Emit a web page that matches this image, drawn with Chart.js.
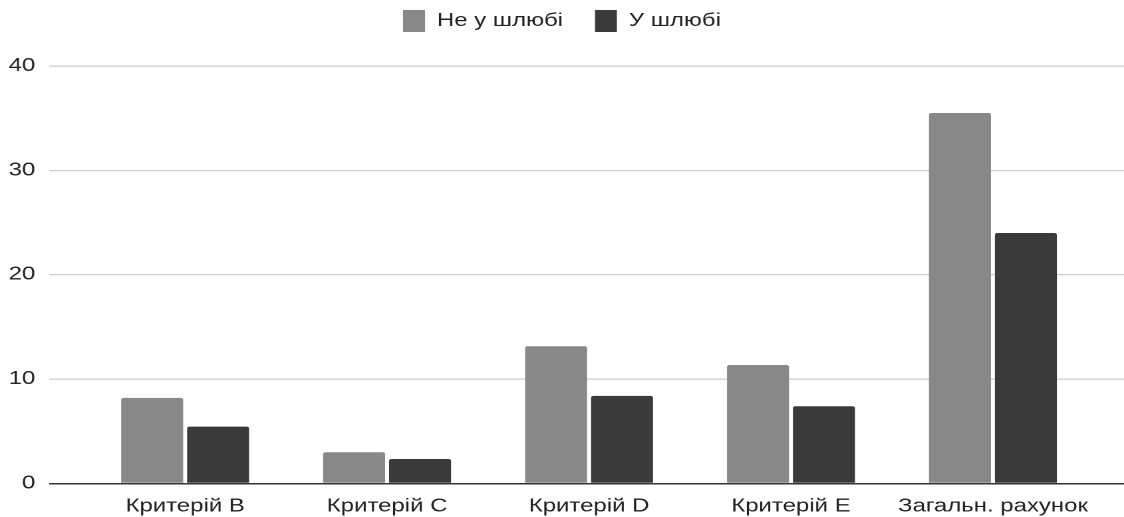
<!DOCTYPE html>
<html>
<head>
<meta charset="utf-8">
<script src="https://cdn.jsdelivr.net/npm/chart.js@4"></script>
<style>
  html, body { margin: 0; padding: 0; background: #fff; }
  #wrap { width: 1124px; height: 517px; }
</style>
</head>
<body>
<div id="wrap"><canvas id="chart" width="845" height="517" style="width:1124px;height:517px"></canvas></div>
<script>
const CATEGORIES = ["Критерій B", "Критерій C", "Критерій D", "Критерій E", "Загальн. рахунок"];
const SERIES_NAMES = ["Не у шлюбі", "У шлюбі"];
const NOT_MARRIED = [8.2, 3.0, 13.15, 11.35, 35.5];
const MARRIED = [5.45, 2.35, 8.4, 7.4, 24.0];
const Y_TICKS = [0, 10, 20, 30, 40];
const COLORS = ["#888888", "#3a3a3a"];

// the original is drawn wide: render narrower and let CSS stretch it
const FONT = { family: "'Liberation Sans', Arial, sans-serif", size: 18 };
const LEGEND_GAP = 24;

function toPoints(values) {
  return values.map((v, i) => ({ x: i, y: v }));
}

const datasets = [NOT_MARRIED, MARRIED].map((values, i) => ({
  label: SERIES_NAMES[i],
  data: toPoints(values),
  backgroundColor: COLORS[i],
  borderWidth: 0,
  borderRadius: { topLeft: 2, topRight: 2 },
  borderSkipped: "start",
  categoryPercentage: 0.653,
  barPercentage: 0.94,
}));

// extra room under the legend
const legendSpace = {
  id: "legendSpace",
  beforeLayout(chart) {
    const legend = chart.legend;
    if (!legend || legend._spaced) return;
    const fit = legend.fit.bind(legend);
    legend.fit = function () {
      fit();
      this.height += 24;
    };
    legend._spaced = true;
  },
};

new Chart(document.getElementById("chart").getContext("2d"), {
  type: "bar",
  data: { datasets },
  plugins: [legendSpace],
  options: {
    responsive: false,
    animation: false,
    devicePixelRatio: 2,
    layout: { padding: { top: 10 - LEGEND_GAP, left: 0, right: 0, bottom: 0 } },
    scales: {
      x: {
        type: "linear",
        offset: false,
        min: -0.673,
        max: 4.649,
        grid: { display: false, drawTicks: false },
        border: { display: false },
        afterBuildTicks: (s) => {
          s.ticks = CATEGORIES.map((_, i) => ({ value: i }));
        },
        afterFit: (s) => { s.height = 33.5; },
        ticks: {
          autoSkip: false,
          maxRotation: 0,
          padding: 12,
          color: "#222",
          font: FONT,
          callback: (v) => CATEGORIES[v],
        },
      },
      y: {
        min: 0,
        max: 40,
        afterBuildTicks: (s) => {
          s.ticks = Y_TICKS.map((v) => ({ value: v }));
        },
        afterFit: (s) => { s.width = 37; },
        grid: {
          drawTicks: false,
          color: (c) => (c.tick && c.tick.value === 0 ? "#333333" : "#cccccc"),
          lineWidth: (c) => (c.tick && c.tick.value === 0 ? 1.5 : 1.2),
        },
        border: { display: false },
        ticks: { padding: 10.5, color: "#222", font: FONT },
      },
    },
    plugins: {
      legend: {
        position: "top",
        labels: {
          boxWidth: 16.5,
          boxHeight: 22,
          padding: LEGEND_GAP,
          color: "#222",
          font: FONT,
        },
      },
      tooltip: { enabled: false },
    },
  },
});
</script>
</body>
</html>
